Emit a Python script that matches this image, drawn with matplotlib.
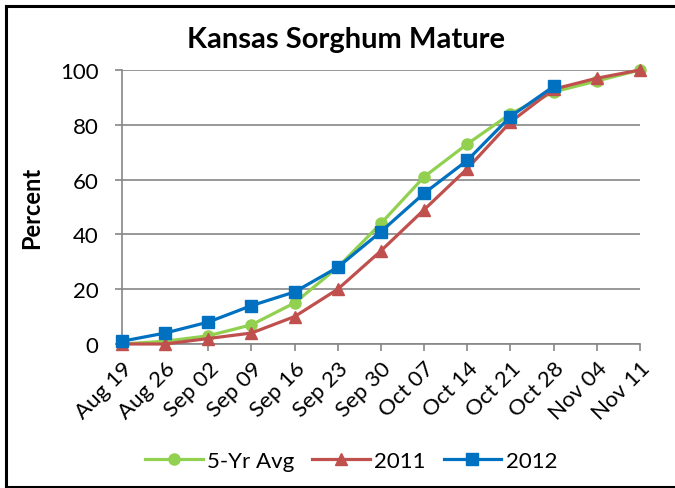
import matplotlib
matplotlib.use("Agg")
from matplotlib import pyplot as plt
from matplotlib.lines import Line2D

weeks = ["Aug 19", "Aug 26", "Sep 02", "Sep 09", "Sep 16", "Sep 23", "Sep 30",
         "Oct 07", "Oct 14", "Oct 21", "Oct 28", "Nov 04", "Nov 11"]
avg5 = [0, 1, 3, 7, 15, 28, 44, 61, 73, 84, 92, 96, 100]
y2011 = [0, 0, 2, 4, 10, 20, 34, 49, 64, 81, 93, 97, 100]
y2012 = [1, 4, 8, 14, 19, 28, 41, 55, 67, 83, 94]

plt.rcParams['font.family'] = ['Lato', 'DejaVu Sans']

fig = plt.figure(figsize=(6.75, 4.89), dpi=100)
ax = fig.add_axes([0.1807, 0.2945, 0.948 - 0.1807, 0.8548 - 0.2945])

x = list(range(len(weeks)))
ax.plot(x, avg5, color='#92D050', lw=2.3, marker='o', ms=8, label='5-Yr Avg', zorder=3, clip_on=False)
ax.plot(x, y2011, color='#C0504D', lw=2.3, marker='^', ms=8, label='2011', zorder=4, clip_on=False)
ax.plot(x[:len(y2012)], y2012, color='#0070C0', lw=2.3, marker='s', ms=8, label='2012', zorder=5, clip_on=False)

ax.set_xlim(0, 12)
ax.set_ylim(0, 100)
ax.set_yticks([0, 20, 40, 60, 80, 100])
ax.set_xticks(x)
ax.set_xticklabels(weeks, rotation=45, ha='right', rotation_mode='anchor')
ax.tick_params(axis='both', labelsize=16, length=5, color='#868686', width=1.2)
ax.tick_params(axis='x', pad=5)
ax.tick_params(axis='y', pad=12)
ax.grid(axis='y', color='#868686', lw=1.2)
ax.set_axisbelow(True)
for s in ['top', 'right']:
    ax.spines[s].set_visible(False)
for s in ['left', 'bottom']:
    ax.spines[s].set_color('#868686')
    ax.spines[s].set_linewidth(1.2)

ax.set_ylabel("Percent", fontsize=17, fontweight='bold', labelpad=12)
fig.text(0.513, 0.918, "Kansas Sorghum Mature", fontsize=21, fontweight='bold',
         ha='center', va='center')

handles = [Line2D([], [], color='#92D050', lw=2.3, marker='o', ms=8),
           Line2D([], [], color='#C0504D', lw=2.3, marker='^', ms=8),
           Line2D([], [], color='#0070C0', lw=2.3, marker='s', ms=8)]
fig.legend(handles, ['5-Yr Avg', '2011', '2012'], loc='center', bbox_to_anchor=(0.52, 0.055),
           ncol=3, frameon=False, fontsize=16, handlelength=2.6, handletextpad=0.2,
           columnspacing=0.8)

# outer frame (right edge is cut off in the original)
fig.add_artist(Line2D([0.0096, 0.0096], [0.003, 0.986], color='black', lw=2.2))
fig.add_artist(Line2D([0.0096, 1.0], [0.986, 0.986], color='black', lw=2.2))
fig.add_artist(Line2D([0.0096, 1.0], [0.003, 0.003], color='black', lw=2.2))

fig.savefig("out.png", dpi=100)
